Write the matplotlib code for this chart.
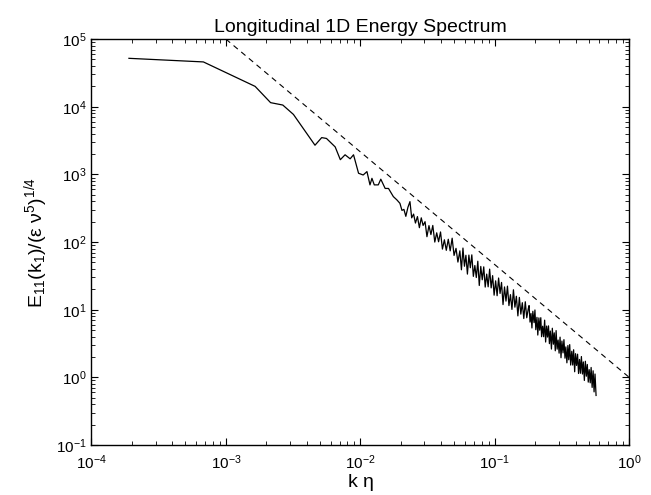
import matplotlib
matplotlib.use("Agg")
import matplotlib.pyplot as plt

plt.rcParams['font.family'] = ['Liberation Sans', 'DejaVu Sans']
plt.rcParams['mathtext.fontset'] = 'custom'
plt.rcParams['mathtext.rm'] = 'Liberation Sans'
plt.rcParams['mathtext.it'] = 'Liberation Sans'

# spectrum (k*eta, compensated E11)
k_eta = [1.9e-4, 6.8e-4, 1.65e-3, 2.15e-3, 2.65e-3, 3.18e-3, 4.6e-3, 5.16e-3,
         5.6e-3, 6.5e-3, 7.1e-3, 7.7e-3, 8.4e-3, 8.9e-3, 9.7e-3, 1.05e-2,
         1.12e-2, 1.18e-2, 1.22e-2, 1.27e-2, 1.36e-2, 1.42e-2, 1.53e-2, 1.62e-2,
         1.76e-2, 1.87e-2,
         0.0197, 0.0204, 0.0211, 0.0218, 0.0226, 0.0234, 0.0241, 0.0249,
         0.0257, 0.0266, 0.0275, 0.0284, 0.0293, 0.0303, 0.0313, 0.0324,
         0.0335, 0.0346, 0.0358, 0.0370, 0.0382, 0.0395, 0.0408, 0.0422,
         0.0436, 0.0451, 0.0466, 0.0482, 0.0498, 0.0515, 0.0532, 0.0550,
         0.0565,
         0.0580, 0.0595, 0.0610, 0.0626, 0.0642, 0.0658, 0.0675, 0.0693,
         0.0711, 0.0729, 0.0748, 0.0767, 0.0787, 0.0807, 0.0828, 0.0849,
         0.0871, 0.0893, 0.0916, 0.0940, 0.0964, 0.0989, 0.1015, 0.1041,
         0.1068, 0.1095, 0.1123, 0.1152, 0.1182, 0.1212, 0.1243, 0.1275,
         0.1308, 0.1342, 0.1377, 0.1412, 0.1448, 0.1486, 0.1524, 0.1563,
         0.1603, 0.1644, 0.1687, 0.1730, 0.1775,
         0.180, 0.183, 0.186, 0.189, 0.192, 0.196, 0.199, 0.202, 0.206, 0.209,
         0.213, 0.216, 0.220, 0.223, 0.227, 0.231, 0.235, 0.239, 0.243, 0.247,
         0.251, 0.255, 0.259, 0.264, 0.268, 0.273, 0.277, 0.282, 0.286, 0.291,
         0.296, 0.301, 0.306, 0.311, 0.316, 0.322, 0.327, 0.333, 0.338, 0.344,
         0.350, 0.355, 0.361, 0.367, 0.374, 0.380, 0.386, 0.393, 0.399, 0.406,
         0.413, 0.420, 0.427, 0.434, 0.441, 0.449, 0.456, 0.464, 0.472, 0.480,
         0.488, 0.496, 0.504, 0.513, 0.521, 0.530, 0.539, 0.548, 0.557, 0.567]
E11 = [5.2e4, 4.6e4, 2.0e4, 1.15e4, 1.06e4, 7.7e3, 2.7e3, 3.5e3,
       3.4e3, 2.55e3, 1.65e3, 1.95e3, 1.7e3, 1.95e3, 1.04e3, 980,
       1.1e3, 700, 875, 700, 700, 850, 620, 620,
       470, 420,
       374, 294, 304, 240, 327, 396, 228, 259,
       191, 238, 163, 228, 176, 200, 120, 175,
       129, 176, 100, 137, 101, 141, 78.7, 108,
       75.5, 110, 74.1, 114, 63.4, 80.7, 50.6, 74.1,
       38.9,
       81.5, 43.9, 63.8, 33.6, 64.2, 41.7, 64.7, 31.1,
       45.0, 29.9, 52.1, 22.8, 43.6, 27.7, 43.0, 21.6,
       33.6, 21.8, 39.8, 21.0, 31.9, 16.4, 26.7, 16.1,
       29.4, 17.4, 25.3, 11.9, 21.7, 13.4, 22.3, 11.5,
       16.7, 10.1, 19.7, 10.9, 15.8, 8.1, 15.2, 8.6,
       12.7, 7.4, 13.1, 7.6, 10.3,
       11.5, 6.56, 8.77, 5.37, 9.48, 6.44, 9.91, 5.06, 7.71, 4.22,
       7.57, 4.98, 7.62, 3.99, 5.70, 3.99, 7.01, 3.33, 5.73, 3.94,
       5.77, 3.15, 4.84, 2.62, 5.32, 3.09, 4.55, 2.47, 4.91, 2.61,
       3.56, 2.28, 3.93, 1.95, 3.44, 2.30, 3.61, 1.92, 2.82, 1.64,
       2.96, 1.82, 3.05, 1.52, 2.43, 1.52, 2.56, 1.21, 2.24, 1.50,
       2.20, 1.14, 1.84, 1.15, 2.03, 1.12, 1.69, 0.90, 1.73, 1.04,
       1.55, 0.85, 1.30, 0.83, 1.40, 0.71, 1.25, 0.61, 1.12, 0.54]

# -5/3 reference line
ref_k = [1e-3, 1e0]
ref_E = [1e5, 1e0]

fig = plt.figure(figsize=(6.51, 4.95), dpi=100)
ax = fig.add_axes([0.1405, 0.101, 0.826, 0.820])

ax.loglog(k_eta, E11, color='black', lw=0.9)
ax.loglog(ref_k, ref_E, color='black', lw=0.8, ls=(0, (5, 4)))

ax.set_xlim(1e-4, 1e0)
ax.set_ylim(1e-1, 1e5)
ax.set_xticks([1e-4, 1e-3, 1e-2, 1e-1, 1e0])
ax.set_yticks([1e-1, 1e0, 1e1, 1e2, 1e3, 1e4, 1e5])

ax.tick_params(which='both', direction='in', top=True, right=True, labelsize=11)
ax.tick_params(axis='x', which='both', pad=6)
ax.tick_params(which='major', length=5, width=0.8)
ax.tick_params(which='minor', length=3, width=0.6)
for s in ax.spines.values():
    s.set_linewidth(1.0)

ax.set_title('Longitudinal 1D Energy Spectrum', fontsize=14, pad=5)
ax.set_xlabel(r'k $\mathregular{\eta}$', fontsize=14, labelpad=0)
ax.set_ylabel('E$_{11}$(k$_1$)/(ε ν$^5$)$^{1/4}$', fontsize=14, labelpad=4)

fig.savefig('out.png', dpi=100)
